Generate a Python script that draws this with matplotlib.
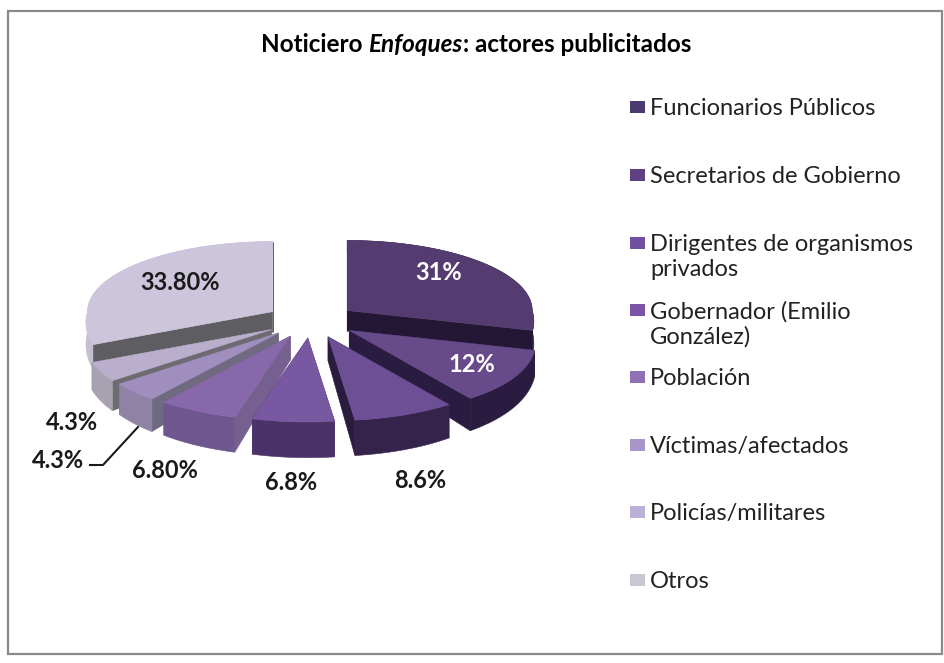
import numpy as np
import matplotlib
matplotlib.use("Agg")
import matplotlib.pyplot as plt
from matplotlib.patches import Polygon, Rectangle

categories = [
    "Funcionarios Públicos",
    "Secretarios de Gobierno",
    "Dirigentes de organismos\nprivados",
    "Gobernador (Emilio\nGonzález)",
    "Población",
    "Víctimas/afectados",
    "Policías/militares",
    "Otros",
]
values = [31, 12, 8.6, 6.8, 6.8, 4.3, 4.3, 33.8]
value_labels = ["31%", "12%", "8.6%", "6.8%", "6.80%", "4.3%", "4.3%", "33.80%"]

top_colors = ["#553c70", "#674a8a", "#6c4f94", "#7858a0", "#8768ab", "#a08fbe", "#b9afcd", "#cdc5dc"]
cut_colors = ["#241735", "#2a1c40", "#2a1c3e", "#4a3368", "#75608f", "#6f6a80", "#6d6a72", "#5e5d62"]
rim_colors = ["#2a1c3e", "#2a1c40", "#35234c", "#4a3368", "#6e568f", "#8f82a5", "#a8a2b0", "#c4bed0"]
legend_colors = ["#4a3a6e", "#5f4080", "#7050a0", "#7d55a8", "#9070b5", "#a995c8", "#bcb0d5", "#cbc6d3"]

legend_y = [107, 175, 243, 310, 377, 445, 512, 580]
label_xy = [(439, 273), (472, 365), (420, 480), (291, 482), (165, 470), (58, 461), (72, 423), (180, 282)]
label_color = ["white", "white", "#1a1a1a", "#1a1a1a", "#1a1a1a", "#1a1a1a", "#1a1a1a", "#1a1a1a"]

# pie geometry in image pixels
cx, cy = 311, 321
rx, rx_front, ry_back, ry_front = 185, 25, 70, 84
explode_x, explode_y = 46, 17


def depth(y):
    return 22 + (y - 322) * 0.137


def slice_faces(start, end):
    mid = (start + end) / 2
    ax0 = cx + explode_x * np.cos(mid)
    ay0 = cy - explode_y * np.sin(mid)
    t = np.linspace(start, end, 60)
    s = np.sin(t)
    x = ax0 + (rx + rx_front * np.maximum(0, -s)) * np.cos(t)
    y = ay0 - np.where(s > 0, ry_back, ry_front) * s
    return ax0, ay0, x, y


plt.rcParams["font.family"] = ["Lato", "DejaVu Sans"]
fig = plt.figure(figsize=(9.44, 6.63), dpi=100)
ax = fig.add_axes([0, 0, 1, 1])
ax.set_xlim(0, 944)
ax.set_ylim(663, 0)
ax.axis("off")

ax.add_patch(Rectangle((8, 11), 934, 643, facecolor="white", edgecolor="#8a8a8a", linewidth=1.6))

# angles run clockwise from the top of the pie
fractions = np.array(values) / np.sum(values)
edges = np.pi / 2 - 2 * np.pi * np.concatenate([[0], np.cumsum(fractions)])
draw_order = [7, 0, 6, 1, 5, 2, 4, 3]

for z, i in enumerate(draw_order):
    ax0, ay0, x, y = slice_faces(edges[i], edges[i + 1])
    d = depth(y)
    d0 = depth(ay0)
    faces = [
        ([ax0, x[0], x[0], ax0], [ay0, y[0], y[0] + d[0], ay0 + d0], cut_colors[i]),
        ([ax0, x[-1], x[-1], ax0], [ay0, y[-1], y[-1] + d[-1], ay0 + d0], cut_colors[i]),
        (np.r_[x, x[::-1]], np.r_[y, (y + d)[::-1]], rim_colors[i]),
    ]
    faces.sort(key=lambda f: np.mean(f[1]))
    for fx, fy, color in faces:
        ax.add_patch(Polygon(np.c_[fx, fy], facecolor=color, edgecolor=color, linewidth=0.4, zorder=2 + z))
    ax.add_patch(Polygon(np.c_[np.r_[ax0, x], np.r_[ay0, y]], facecolor=top_colors[i],
                         edgecolor=top_colors[i], linewidth=0.4, zorder=2 + z))

for label, (lx, ly), color in zip(value_labels, label_xy, label_color):
    ax.text(lx, ly, label, ha="center", va="center", fontsize=17, fontweight="bold", color=color, zorder=20)

# leader line for the lower 4.3% label
ax.plot([90, 103, 138], [465, 465, 427], color="#1a1a1a", linewidth=1.5, zorder=20)

for name, color, y in zip(categories, legend_colors, legend_y):
    ax.add_patch(Rectangle((630, y - 6), 15, 12, facecolor=color, edgecolor="none"))
    ax.text(650, y - 9, name, ha="left", va="top", fontsize=17, color="#222222", linespacing=1.22)

t1 = ax.text(261, 44, "Noticiero ", ha="left", va="center", fontsize=17.5, fontweight="bold", color="black")
t2 = ax.annotate("Enfoques", xy=(1, 0), xycoords=t1, va="bottom", ha="left", fontsize=17.5,
                 fontweight="bold", fontstyle="italic", color="black")
ax.annotate(": actores publicitados", xy=(1, 0), xycoords=t2, va="bottom", ha="left", fontsize=17.5,
            fontweight="bold", color="black")

fig.savefig("out.png", dpi=100)
